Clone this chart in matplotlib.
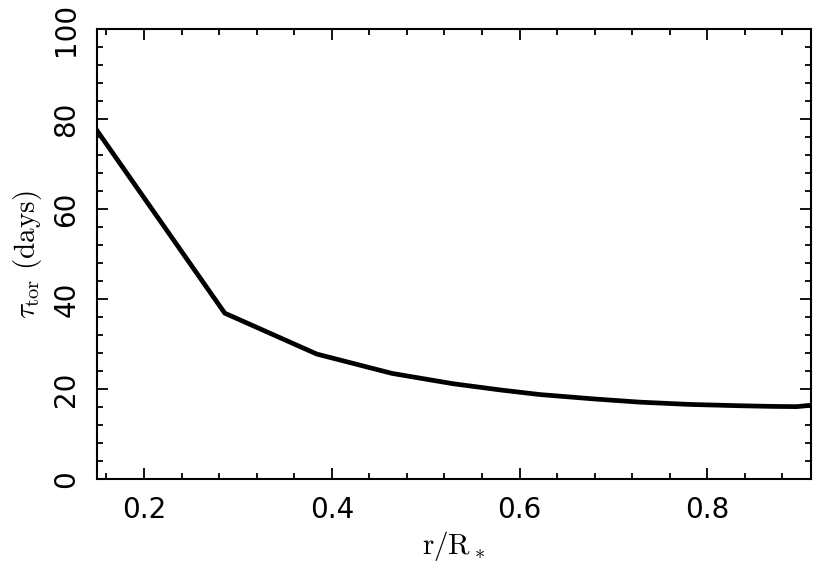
import matplotlib
matplotlib.use("Agg")
import matplotlib.pyplot as plt
from matplotlib.ticker import MultipleLocator

plt.rcParams['mathtext.fontset'] = 'cm'
plt.rcParams['font.family'] = ['DejaVu Sans']

r = [0.15, 0.286, 0.384, 0.464, 0.529, 0.58, 0.621, 0.68, 0.728, 0.78, 0.834, 0.87, 0.895, 0.91]
tau = [77.5, 36.9, 27.8, 23.5, 21.2, 19.8, 18.8, 17.8, 17.1, 16.6, 16.3, 16.15, 16.1, 16.4]

fig = plt.figure(figsize=(8.3, 5.65), dpi=100)
ax = fig.add_axes([0.1169, 0.1522, 0.9767 - 0.1169, 0.9478 - 0.1522])
ax.plot(r, tau, color='black', lw=3.4, solid_joinstyle='miter')
ax.set_xlim(0.15, 0.91)
ax.set_ylim(0, 100)
ax.xaxis.set_major_locator(MultipleLocator(0.2))
ax.xaxis.set_minor_locator(MultipleLocator(0.04))
ax.yaxis.set_major_locator(MultipleLocator(20))
ax.yaxis.set_minor_locator(MultipleLocator(4))
ax.tick_params(which='both', direction='in', top=True, right=True, width=1.3)
ax.tick_params(which='major', length=8)
ax.tick_params(which='minor', length=4)
ax.tick_params(axis='x', labelsize=20, pad=12)
ax.tick_params(axis='y', labelsize=20, pad=12, labelrotation=90)
for lab in ax.get_yticklabels():
    lab.set_va('center')
for s in ax.spines.values():
    s.set_linewidth(1.5)
ax.set_xlabel(r'$\mathrm{r/R_*}$', fontsize=21, labelpad=4)
ax.set_ylabel(r'$\tau_{\rm tor}\ \mathrm{(days)}$', fontsize=21, labelpad=6)
fig.savefig('out.png', dpi=100)
